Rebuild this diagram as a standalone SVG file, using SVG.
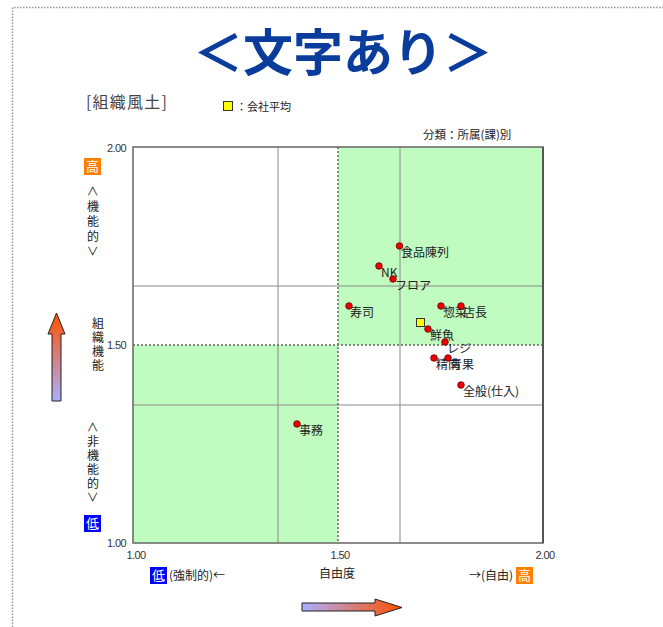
<svg xmlns="http://www.w3.org/2000/svg" width="663" height="627" viewBox="0 0 663 627">
<style>
.jp{font-family:"Noto Sans CJK JP","Noto Sans",sans-serif;}
.num{font-family:"Liberation Sans",Arial,sans-serif;font-size:11px;fill:#333;letter-spacing:-0.6px;}
.lbl{font-family:"Noto Sans CJK JP",sans-serif;font-size:12px;fill:#222;}
.ax{font-family:"Noto Sans CJK JP",sans-serif;font-size:12px;fill:#222;}
.vt{font-family:"Noto Sans CJK JP",sans-serif;font-size:12px;fill:#222;writing-mode:vertical-rl;}
.dot{fill:#ee0000;stroke:#660000;stroke-width:0.8;}
.grid{stroke:#8a8a8a;stroke-width:1;fill:none;}
.dash{stroke:#666;stroke-width:1.5;stroke-dasharray:2,2;fill:none;}
.green{fill:#c0fbc0;}
.box{font-family:"Noto Sans CJK JP",sans-serif;font-size:13px;fill:#fff;}
</style>
<defs>
<linearGradient id="gUp" x1="0" y1="1" x2="0" y2="0">
<stop offset="0" stop-color="#aab0ff"/>
<stop offset="1" stop-color="#ff5000"/>
</linearGradient>
<linearGradient id="gRight" x1="0" y1="0" x2="1" y2="0">
<stop offset="0" stop-color="#aab0ff"/>
<stop offset="1" stop-color="#ff5000"/>
</linearGradient>
</defs>
<rect width="663" height="627" fill="#fff"/>
<!-- outer dotted frame -->
<path d="M12.5 627 V7.5 H663" fill="none" stroke="#999" stroke-width="1.5" stroke-dasharray="1.5,1.5"/>
<!-- title -->
<text x="343" y="71" text-anchor="middle" class="jp" font-size="50" font-weight="bold" fill="#0a3c9c">＜文字あり＞</text>
<text x="86" y="108" class="jp" font-size="16" fill="#444" letter-spacing="1.2">[組織風土]</text>
<g id="legend">
<rect x="223.5" y="101.5" width="9" height="9" fill="#ffff00" stroke="#333" stroke-width="1"/>
<text x="236" y="111" class="jp" font-size="11" fill="#222">：会社平均</text>
</g>
<text x="423" y="139" class="jp" font-size="11.5" fill="#222">分類：所属(課)別</text>
<!-- plot -->
<g id="plot">
<rect x="338" y="147" width="205" height="198" class="green"/>
<rect x="133" y="345" width="205" height="198" class="green"/>
<line x1="278" y1="147" x2="278" y2="543" class="grid"/>
<line x1="400" y1="147" x2="400" y2="543" class="grid"/>
<line x1="133" y1="286" x2="543" y2="286" class="grid"/>
<line x1="133" y1="405" x2="543" y2="405" class="grid"/>
<line x1="338" y1="147" x2="338" y2="543" class="dash"/>
<line x1="133" y1="345" x2="543" y2="345" class="dash"/>
<rect x="133" y="147" width="410" height="396" fill="none" stroke="#666" stroke-width="1.5"/>
<line x1="543" y1="147" x2="543" y2="543" stroke="#555" stroke-width="2"/>
</g>
<!-- tick labels -->
<text x="126" y="152" text-anchor="end" class="num">2.00</text>
<text x="126" y="349" text-anchor="end" class="num">1.50</text>
<text x="126" y="547" text-anchor="end" class="num">1.00</text>
<text x="136" y="559" text-anchor="middle" class="num">1.00</text>
<text x="340" y="559" text-anchor="middle" class="num">1.50</text>
<text x="545" y="559" text-anchor="middle" class="num">2.00</text>
<!-- x axis labels -->
<text x="337" y="578" text-anchor="middle" class="ax">自由度</text>
<g id="x-low">
<rect x="150" y="567" width="17" height="17" fill="#0000ff"/>
<text x="158.5" y="580" text-anchor="middle" class="box">低</text>
<text x="169" y="580" class="ax" font-size="11.5">(強制的)←</text>
</g>
<g id="x-high">
<text x="513" y="580" text-anchor="end" class="ax" font-size="11.5">→(自由)</text>
<rect x="516" y="567" width="17" height="17" fill="#ff8000"/>
<text x="524.5" y="580" text-anchor="middle" class="box">高</text>
</g>
<!-- y axis labels -->
<g id="y-high">
<rect x="84" y="158" width="17" height="17" fill="#ff8000"/>
<text x="92.5" y="171" text-anchor="middle" class="box">高</text>
<text x="93" y="185" class="vt" letter-spacing="3">＜機能的＞</text>
</g>
<g id="y-mid">
<text x="98" y="317" class="vt" letter-spacing="2">組織機能</text>
</g>
<g id="y-low">
<text x="93" y="421" class="vt" letter-spacing="2">＜非機能的＞</text>
<rect x="84" y="515" width="17" height="17" fill="#0000ff"/>
<text x="92.5" y="528" text-anchor="middle" class="box">低</text>
</g>
<!-- arrows -->
<g id="arrows">
<path d="M52 401 V334 H48 L56.5 313 L65 334 H61 V401 Z" fill="url(#gUp)" stroke="#222" stroke-width="1"/>
<path d="M302 603 H375 V599 L402 607.5 L375 616 V611 H302 Z" fill="url(#gRight)" stroke="#222" stroke-width="1"/>
</g>
<!-- data points -->
<g id="p-shokuhin"><circle cx="399.5" cy="246" r="3.3" class="dot"/><text x="401" y="257" class="lbl">食品陳列</text></g>
<g id="p-nk"><circle cx="379" cy="266" r="3.3" class="dot"/><text x="381" y="277" class="lbl">NK</text></g>
<g id="p-floor"><circle cx="393" cy="279" r="3.3" class="dot"/><text x="395" y="290" class="lbl">フロア</text></g>
<g id="p-sushi"><circle cx="349" cy="306" r="3.3" class="dot"/><text x="350" y="317" class="lbl">寿司</text></g>
<g id="p-sozai"><circle cx="441" cy="306" r="3.3" class="dot"/><text x="443" y="317" class="lbl">惣菜</text></g>
<g id="p-tencho"><circle cx="461" cy="306" r="3.3" class="dot"/><text x="463" y="317" class="lbl">店長</text></g>
<g id="p-avg"><rect x="416.5" y="318.5" width="8" height="8" fill="#ffff00" stroke="#333" stroke-width="1"/></g>
<g id="p-sengyo"><circle cx="428" cy="329" r="3.3" class="dot"/><text x="430" y="340" class="lbl">鮮魚</text></g>
<g id="p-reji"><circle cx="445" cy="342" r="3.3" class="dot"/><text x="447" y="353" class="lbl" fill="#555">レジ</text></g>
<g id="p-seiniku"><circle cx="434" cy="358" r="3.3" class="dot"/><text x="436" y="369" class="lbl">精肉</text></g>
<g id="p-seika"><circle cx="448" cy="358" r="3.3" class="dot"/><text x="450" y="369" class="lbl">青果</text></g>
<g id="p-zenpan"><circle cx="461" cy="385" r="3.3" class="dot"/><text x="463" y="396" class="lbl">全般(仕入)</text></g>
<g id="p-jimu"><circle cx="297" cy="424" r="3.3" class="dot"/><text x="299" y="435" class="lbl">事務</text></g>
</svg>
